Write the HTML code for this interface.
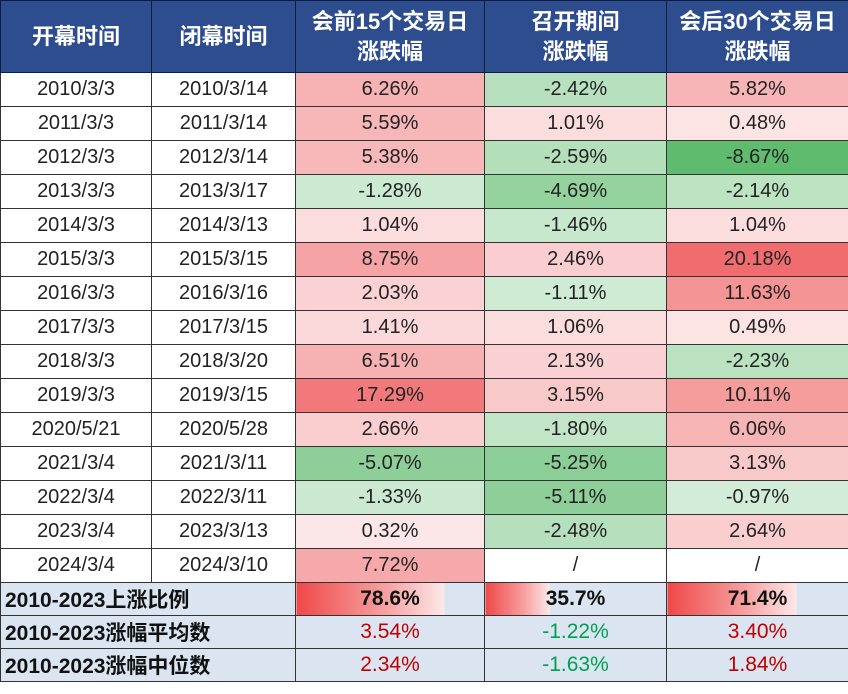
<!DOCTYPE html>
<html><head><meta charset="utf-8">
<style>
body{margin:0;width:848px;height:694px;background:#fff;overflow:hidden;font-family:"Liberation Sans","Noto Sans CJK SC",sans-serif;}
table{border-collapse:collapse;position:absolute;left:0;top:0;table-layout:fixed;width:848px;}
td,th{border:1.5px solid #333;padding:0;text-align:center;overflow:hidden;white-space:nowrap;}
th{background:#2d4d8f;color:#fff;font-weight:bold;font-size:22px;line-height:30px;height:71px;border-color:#0d1d3d;}
td{font-size:20px;color:#222;height:33px;}
tr.sum td{background:#dbe5f1;font-weight:bold;font-size:21px;color:#111;height:32px;}
tr.sum td.lab{text-align:left;padding-left:4px;}
</style></head><body>
<table>
<colgroup><col style="width:151px"><col style="width:144px"><col style="width:189px"><col style="width:182px"><col style="width:182px"></colgroup>
<thead><tr>
<th>开幕时间</th>
<th>闭幕时间</th>
<th>会前15个交易日<br>涨跌幅</th>
<th>召开期间<br>涨跌幅</th>
<th>会后30个交易日<br>涨跌幅</th>
</tr></thead>
<tbody id="tb"></tbody>
</table>
<script>
const openDates=["2010/3/3","2011/3/3","2012/3/3","2013/3/3","2014/3/3","2015/3/3","2016/3/3","2017/3/3","2018/3/3","2019/3/3","2020/5/21","2021/3/4","2022/3/4","2023/3/4","2024/3/4"];
const closeDates=["2010/3/14","2011/3/14","2012/3/14","2013/3/17","2014/3/13","2015/3/15","2016/3/16","2017/3/15","2018/3/20","2019/3/15","2020/5/28","2021/3/11","2022/3/11","2023/3/13","2024/3/10"];
const pre15=[6.26,5.59,5.38,-1.28,1.04,8.75,2.03,1.41,6.51,17.29,2.66,-5.07,-1.33,0.32,7.72];
const during=[-2.42,1.01,-2.59,-4.69,-1.46,2.46,-1.11,1.06,2.13,3.15,-1.80,-5.25,-5.11,-2.48,null];
const post30=[5.82,0.48,-8.67,-2.14,1.04,20.18,11.63,0.49,-2.23,10.11,6.06,3.13,-0.97,2.64,null];
const sumLabels=["2010-2023上涨比例","2010-2023涨幅平均数","2010-2023涨幅中位数"];
const upRatio=[78.6,35.7,71.4];
const avgVals=[3.54,-1.22,3.40];
const medVals=[2.34,-1.63,1.84];

function mix(a,b,t){return 'rgb('+a.map((v,i)=>Math.round(v+(b[i]-v)*t)).join(',')+')';}
const allVals=pre15.concat(during,post30).filter(x=>x!==null);
const gMax=Math.max(...allVals), gMin=Math.min(...allVals);
function colorFor(v){
  if(v===null) return '#fff';
  if(v>=0){const t=Math.pow(v/gMax,0.65);return mix([253,240,241],[240,108,110],t);}
  const t=Math.pow(v/gMin,0.75);return mix([238,248,240],[95,187,110],t);
}
const tb=document.getElementById('tb');
const cols=[pre15,during,post30];
const colNames=['pre-15','during','post-30'];
for(let i=0;i<openDates.length;i++){
  const tr=document.createElement('tr');
  
  
  const a=document.createElement('td');a.textContent=openDates[i];
  
  
  tr.appendChild(a);
  const b=document.createElement('td');b.textContent=closeDates[i];
  
  
  tr.appendChild(b);
  cols.forEach((arr,k)=>{
    const c=document.createElement('td');
    const v=arr[i];
    c.textContent=v===null?'/':v.toFixed(2)+'%';
    c.style.background=colorFor(v);
    
    
    tr.appendChild(c);
  });
  tb.appendChild(tr);
}
const sumRows=[upRatio,avgVals,medVals];
sumRows.forEach((arr,r)=>{
  const tr=document.createElement('tr');tr.className='sum';
  
  
  const l=document.createElement('td');l.colSpan=2;l.className='lab';l.textContent=sumLabels[r];
  
  
  tr.appendChild(l);
  arr.forEach((v,k)=>{
    const c=document.createElement('td');
    
    
    if(r===0){
      c.textContent=v.toFixed(1)+'%';
      c.style.background='linear-gradient(90deg,#f04848 0%,#f7a0a0 '+(v*0.6)+'%,#fde8e8 '+v+'%,#dbe5f1 '+v+'%)';
    } else {
      c.textContent=v.toFixed(2)+'%';
      c.style.fontWeight='normal';
      c.style.color=v>=0?'#c00000':'#00a050';
    }
    tr.appendChild(c);
  });
  tb.appendChild(tr);
});
</script>
</body></html>
